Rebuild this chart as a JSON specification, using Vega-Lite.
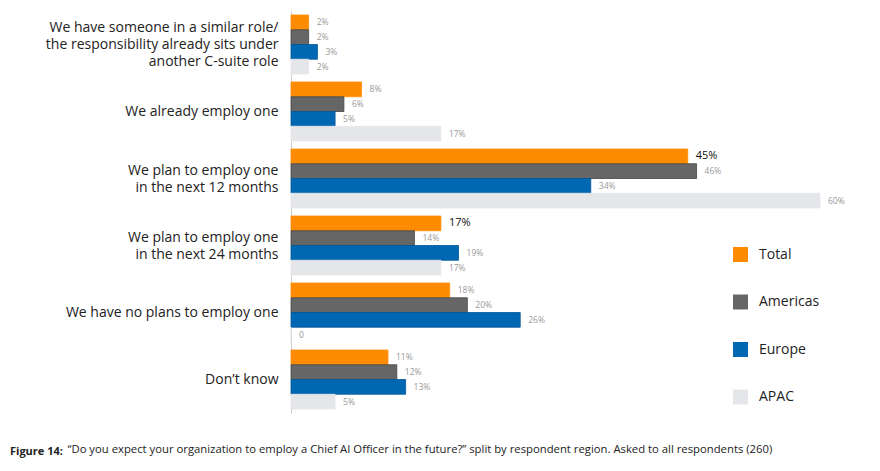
{
  "$schema": "https://vega.github.io/schema/vega-lite/v6.json",
  "width": 529,
  "height": 402,
  "autosize": {"type": "none"},
  "padding": {"left": 291, "top": 11, "right": 60, "bottom": 58},
  "background": "white",
  "config": {"view": {"stroke": null}, "font": "Open Sans"},
  "title": {
    "text": "Figure 14:",
    "orient": "bottom",
    "anchor": "start",
    "frame": "group",
    "dx": -281,
    "dy": -12,
    "fontSize": 11,
    "fontWeight": "bold",
    "color": "#222222",
    "font": "Open Sans"
  },
  "data": {
    "values": [
      {"cat": "We have someone in a similar role/|the responsibility already sits under|another C-suite role", "region": "Total", "value": 2, "label": "2%", "bold": false},
      {"cat": "We have someone in a similar role/|the responsibility already sits under|another C-suite role", "region": "Americas", "value": 2, "label": "2%", "bold": false},
      {"cat": "We have someone in a similar role/|the responsibility already sits under|another C-suite role", "region": "Europe", "value": 3, "label": "3%", "bold": false},
      {"cat": "We have someone in a similar role/|the responsibility already sits under|another C-suite role", "region": "APAC", "value": 2, "label": "2%", "bold": false},
      {"cat": "We already employ one", "region": "Total", "value": 8, "label": "8%", "bold": false},
      {"cat": "We already employ one", "region": "Americas", "value": 6, "label": "6%", "bold": false},
      {"cat": "We already employ one", "region": "Europe", "value": 5, "label": "5%", "bold": false},
      {"cat": "We already employ one", "region": "APAC", "value": 17, "label": "17%", "bold": false},
      {"cat": "We plan to employ one|in the next 12 months", "region": "Total", "value": 45, "label": "45%", "bold": true},
      {"cat": "We plan to employ one|in the next 12 months", "region": "Americas", "value": 46, "label": "46%", "bold": false},
      {"cat": "We plan to employ one|in the next 12 months", "region": "Europe", "value": 34, "label": "34%", "bold": false},
      {"cat": "We plan to employ one|in the next 12 months", "region": "APAC", "value": 60, "label": "60%", "bold": false},
      {"cat": "We plan to employ one|in the next 24 months", "region": "Total", "value": 17, "label": "17%", "bold": true},
      {"cat": "We plan to employ one|in the next 24 months", "region": "Americas", "value": 14, "label": "14%", "bold": false},
      {"cat": "We plan to employ one|in the next 24 months", "region": "Europe", "value": 19, "label": "19%", "bold": false},
      {"cat": "We plan to employ one|in the next 24 months", "region": "APAC", "value": 17, "label": "17%", "bold": false},
      {"cat": "We have no plans to employ one", "region": "Total", "value": 18, "label": "18%", "bold": false},
      {"cat": "We have no plans to employ one", "region": "Americas", "value": 20, "label": "20%", "bold": false},
      {"cat": "We have no plans to employ one", "region": "Europe", "value": 26, "label": "26%", "bold": false},
      {"cat": "We have no plans to employ one", "region": "APAC", "value": 0, "label": "0", "bold": false},
      {"cat": "Don’t know", "region": "Total", "value": 11, "label": "11%", "bold": false},
      {"cat": "Don’t know", "region": "Americas", "value": 12, "label": "12%", "bold": false},
      {"cat": "Don’t know", "region": "Europe", "value": 13, "label": "13%", "bold": false},
      {"cat": "Don’t know", "region": "APAC", "value": 5, "label": "5%", "bold": false}
    ]
  },
  "encoding": {
    "y": {
      "field": "cat",
      "type": "nominal",
      "sort": null,
      "scale": {"paddingInner": 0.12, "paddingOuter": 0.06},
      "axis": {
        "title": null,
        "ticks": false,
        "domainColor": "#cccccc",
        "domainWidth": 1,
        "labelExpr": "split(datum.label, '|')",
        "labelFontSize": 14,
        "labelColor": "#222222",
        "labelLineHeight": 17,
        "labelPadding": 13,
        "labelLimit": 400,
        "labelFont": "Open Sans",
        "labelOffset": {
          "condition": [
            {"test": "length(split(datum.value, '|')) == 3", "value": -17},
            {"test": "length(split(datum.value, '|')) == 2", "value": -8}
          ],
          "value": 0
        }
      }
    },
    "yOffset": {
      "field": "region",
      "type": "nominal",
      "sort": ["Total", "Americas", "Europe", "APAC"],
      "scale": {"paddingInner": 0, "paddingOuter": 0}
    },
    "x": {
      "field": "value",
      "type": "quantitative",
      "scale": {"domain": [0, 60], "nice": false},
      "axis": {
        "title": "“Do you expect your organization to employ a Chief AI Officer in the future?” split by respondent region. Asked to all respondents (260)",
        "titleFontSize": 11.3,
        "titleFontWeight": "normal",
        "titleColor": "#222222",
        "titleFont": "Open Sans",
        "titleAnchor": "start",
        "titleAlign": "left",
        "titleX": -224,
        "titleY": 39,
        "titleBaseline": "alphabetic",
        "labels": false,
        "ticks": false,
        "domain": false,
        "grid": false
      }
    }
  },
  "layer": [
    {
      "mark": {"type": "bar", "strokeWidth": 0.8},
      "encoding": {
        "color": {
          "field": "region",
          "type": "nominal",
          "sort": ["Total", "Americas", "Europe", "APAC"],
          "scale": {
            "domain": ["Total", "Americas", "Europe", "APAC"],
            "range": ["#ff8c00", "#666666", "#0068b3", "#e5e6ea"]
          },
          "legend": {
            "title": null,
            "orient": "none",
            "legendX": 442,
            "legendY": 236,
            "symbolType": "square",
            "symbolSize": 225,
            "symbolStrokeWidth": 0,
            "labelFontSize": 14,
            "labelColor": "#222222",
            "labelFont": "Open Sans",
            "labelOffset": 11,
            "rowPadding": 32.5,
            "padding": 0
          }
        },
        "stroke": {
          "field": "region",
          "type": "nominal",
          "scale": {
            "domain": ["Total", "Americas", "Europe", "APAC"],
            "range": ["#ff8c00", "#444444", "#00559a", "#e5e6ea"]
          },
          "legend": null
        }
      }
    },
    {
      "mark": {"type": "text", "align": "left", "baseline": "middle", "dx": 8, "font": "Open Sans"},
      "encoding": {
        "text": {"field": "label"},
        "color": {
          "condition": {"test": "datum.bold", "value": "#111111"},
          "value": "#999999"
        },
        "size": {
          "condition": {"test": "datum.bold", "value": 11},
          "value": 8.5
        },
        "fontWeight": {
          "condition": {"test": "datum.bold", "value": "bold"},
          "value": "normal"
        }
      }
    }
  ]
}
